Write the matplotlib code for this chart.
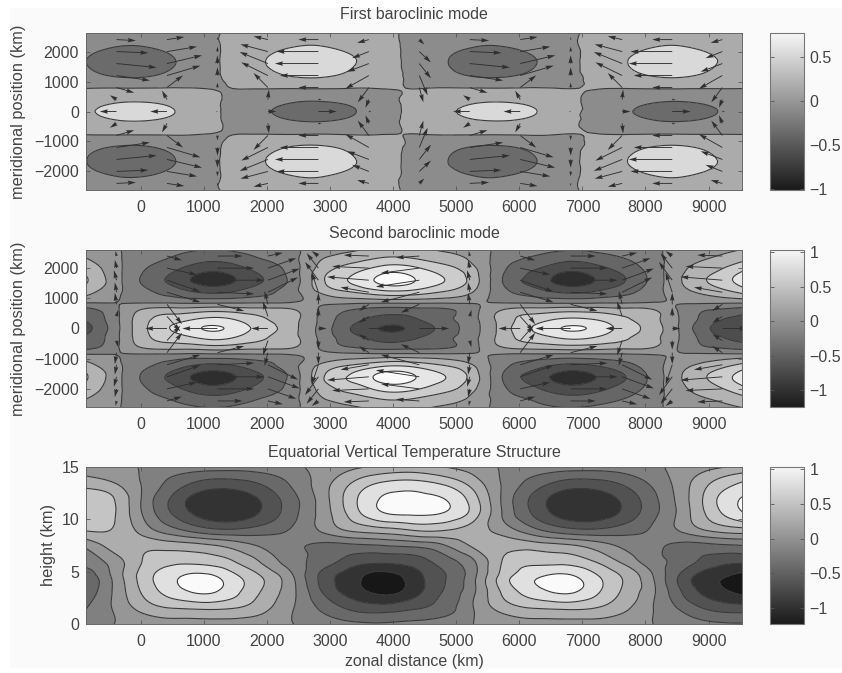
import numpy as np
import matplotlib
matplotlib.use("Agg")
import matplotlib.pyplot as plt
import matplotlib.tri as mtri
from matplotlib.cm import ScalarMappable
from matplotlib.colors import LinearSegmentedColormap, Normalize
from matplotlib.patches import Rectangle

plt.rcParams['font.family'] = ['Liberation Sans', 'DejaVu Sans']
plt.rcParams['axes.unicode_minus'] = True

TEXT = '#444444'
W, H = 842, 673

# columns the three fields were read at (km)
grid_x = [-900, -425, 50, 525, 1000, 1475, 1950, 2425, 2900, 3375, 3850, 4325,
          4800, 5275, 5750, 6225, 6700, 7175, 7650, 8125, 8600, 9075, 9550]
grid_y = [0, 300, 600, 900, 1200, 1500, 1800, 2100, 2400, 2700]
grid_z = [0, 1.5, 3, 4.5, 6, 7.5, 9, 10.5, 12, 13.5, 15]

# first mode, y >= 0 (picture is mirrored about the equator)
mode1 = [
    [.22, .43, .48, .31, .08, -.05, -.2, -.38, -.41, -.27, -.08, .04, .2, .42, .48, .33, .09, -.04, -.19, -.37, -.42, -.28, -.09],
    [.14, .28, .31, .2, .05, -.03, -.13, -.25, -.27, -.18, -.05, .03, .13, .27, .31, .21, .06, -.03, -.12, -.24, -.27, -.18, -.06],
    [.055, .11, .12, .08, .02, -.01, -.05, -.095, -.1, -.07, -.02, .01, .05, .105, .12, .08, .02, -.01, -.05, -.09, -.1, -.07, -.02],
    [-.05, -.08, -.09, -.05, -.02, .01, .06, .1, .11, .06, .02, -.01, -.04, -.08, -.09, -.05, -.02, .01, .05, .1, .11, .07, .02],
    [-.15, -.27, -.28, -.17, -.05, .04, .18, .33, .34, .21, .06, -.03, -.15, -.27, -.28, -.18, -.05, .03, .17, .32, .34, .21, .06],
    [-.22, -.4, -.41, -.25, -.08, .07, .27, .49, .5, .3, .1, -.06, -.21, -.4, -.41, -.26, -.08, .06, .25, .48, .51, .31, .1],
    [-.22, -.4, -.41, -.25, -.08, .07, .27, .5, .51, .31, .1, -.06, -.21, -.4, -.41, -.26, -.08, .06, .25, .48, .52, .32, .1],
    [-.15, -.27, -.28, -.17, -.05, .04, .18, .33, .34, .2, .06, -.04, -.15, -.27, -.28, -.17, -.05, .04, .17, .32, .34, .21, .06],
    [-.1, -.18, -.18, -.11, -.03, .03, .12, .22, .22, .13, .04, -.03, -.09, -.18, -.18, -.11, -.03, .03, .11, .21, .23, .14, .04],
    [-.07, -.13, -.14, -.08, -.03, .02, .09, .17, .17, .1, .03, -.02, -.07, -.13, -.14, -.09, -.03, .02, .08, .16, .17, .11, .03],
]

# second mode, y >= 0
mode2 = [
    [-.5, -.1, .36, .63, .81, .74, .5, .25, -.1, -.43, -.62, -.55, -.33, -.07, .3, .62, .81, .76, .52, .3, -.07, -.43, -.62],
    [-.39, -.08, .34, .51, .64, .6, .42, .25, -.08, -.34, -.48, -.43, -.26, -.05, .3, .5, .63, .6, .44, .26, -.05, -.34, -.48],
    [-.3, -.06, .24, .3, .34, .33, .28, .22, -.06, -.22, -.3, -.28, -.24, -.06, .22, .3, .34, .33, .28, .22, -.06, -.22, -.3],
    [.06, .01, -.05, -.07, -.09, -.08, -.06, -.02, .07, .09, .1, .1, .08, .04, -.04, -.07, -.09, -.08, -.06, -.02, .04, .07, .09],
    [.28, .06, -.15, -.29, -.42, -.38, -.25, -.06, .25, .4, .53, .51, .38, .19, -.14, -.3, -.42, -.38, -.26, -.08, .14, .28, .45],
    [.43, .1, -.23, -.45, -.65, -.59, -.38, -.1, .38, .62, .84, .79, .59, .29, -.21, -.46, -.65, -.59, -.4, -.12, .21, .43, .68],
    [.41, .09, -.22, -.43, -.63, -.57, -.37, -.09, .37, .6, .81, .76, .57, .28, -.2, -.44, -.63, -.57, -.39, -.12, .2, .41, .66],
    [.3, .07, -.16, -.31, -.46, -.42, -.27, -.07, .27, .44, .59, .56, .42, .2, -.15, -.32, -.46, -.42, -.28, -.09, .15, .3, .48],
    [.19, .04, -.1, -.2, -.29, -.26, -.17, -.04, .17, .27, .37, .35, .26, .13, -.09, -.2, -.29, -.26, -.18, -.05, .09, .19, .3],
    [.11, .02, -.06, -.11, -.16, -.15, -.1, -.02, .1, .16, .21, .2, .15, .07, -.05, -.12, -.16, -.15, -.1, -.03, .05, .11, .17],
]

# vertical structure, z rows from the ground up
vertical = [
    [-.1, 0, .08, .11, .13, .11, .07, 0, -.1, -.16, -.18, -.15, -.1, 0, .08, .11, .13, .11, .07, 0, -.1, -.16, -.18],
    [-.22, .02, .28, .4, .43, .4, .25, 0, -.25, -.45, -.5, -.42, -.3, 0, .28, .4, .43, .4, .25, 0, -.25, -.45, -.5],
    [-.35, .03, .44, .7, .82, .66, .36, .03, -.42, -.7, -.84, -.68, -.38, -.03, .44, .7, .82, .66, .36, .03, -.42, -.7, -.84],
    [-.37, .05, .5, .76, .86, .66, .38, 0, -.48, -.74, -.88, -.7, -.42, -.05, .5, .76, .86, .66, .38, 0, -.48, -.74, -.88],
    [-.12, .1, .42, .55, .53, .4, .15, -.12, -.3, -.5, -.55, -.5, -.3, -.02, .42, .55, .53, .4, .15, -.12, -.3, -.5, -.55],
    [.03, .28, .34, .3, .24, .12, -.04, -.15, -.25, -.24, -.2, -.15, -.02, .24, .34, .3, .24, .12, -.04, -.15, -.25, -.24, -.2],
    [.42, .38, .1, -.15, -.33, -.38, -.3, -.17, .05, .25, .33, .42, .42, .3, .1, -.15, -.33, -.38, -.3, -.17, .05, .25, .33],
    [.55, .42, -.03, -.42, -.68, -.72, -.55, -.25, .1, .5, .78, .82, .78, .5, -.03, -.42, -.68, -.72, -.55, -.25, .1, .5, .78],
    [.55, .4, -.05, -.45, -.72, -.73, -.55, -.25, .12, .55, .82, .85, .8, .48, -.05, -.45, -.72, -.73, -.55, -.25, .12, .55, .82],
    [.3, .2, -.03, -.28, -.45, -.47, -.36, -.15, .12, .42, .62, .66, .55, .3, -.03, -.28, -.45, -.47, -.36, -.15, .12, .42, .62],
    [.12, .08, -.02, -.08, -.1, -.12, -.09, -.03, .06, .16, .24, .26, .2, .1, -.02, -.08, -.1, -.12, -.09, -.03, .06, .16, .24],
]

# arrow origins and extents (km), y >= 0, top row first
arrow_x = [-386, 414, 1214, 2014, 2814, 3614, 4414, 5214, 6014, 6814, 7630, 8424, 9218]
arrow_y = [2400, 2000, 1600, 1200, 800, 400, 0]

mode1_u = [
    [307, 275, 0, -228, -318, -186, 80, 307, 275, 0, -228, -318, -186],
    [503, 477, 0, -435, -662, -265, 185, 503, 477, 0, -435, -662, -265],
    [636, 556, 0, -450, -689, -344, 185, 636, 556, 0, -450, -689, -344],
    [530, 530, 0, -424, -610, -371, 132, 530, 530, 0, -424, -610, -371],
    [281, 254, 0, -228, -318, -175, 64, 281, 254, 0, -228, -318, -175],
    [-106, -80, 0, 16, 53, -53, 0, -106, -80, 0, 16, 53, -53],
    [-265, -265, -26, 132, 292, 42, 0, -265, -265, -26, 132, 292, 42],
]
mode1_v = [
    [-33, 88, 88, 110, 0, -110, -165, -33, 88, 88, 110, 0, -110],
    [-44, 165, 165, 242, 0, -220, -363, -44, 165, 165, 242, 0, -220],
    [-132, 275, 275, 385, 0, -275, -495, -132, 275, 275, 385, 0, -275],
    [-165, 330, 275, 440, 0, -440, -660, -165, 330, 275, 440, 0, -440],
    [-176, 407, 165, 484, 0, -495, -495, -176, 407, 165, 484, 0, -495],
    [143, 297, 0, 330, 0, -275, 0, 143, 297, 0, 330, 0, -275],
    [0, 0, 0, 0, 0, 0, 0, 0, 0, 0, 0, 0, 0],
]
mode2_u = [
    [-16, 238, 398, 238, -106, -398, -371, -16, 238, 398, 238, -106, -398],
    [-27, 477, 583, 450, -186, -583, -610, -27, 477, 583, 450, -186, -583],
    [-42, 530, 742, 504, -212, -663, -689, -42, 530, 742, 504, -212, -663],
    [-27, 530, 583, 477, -106, -450, -610, -27, 530, 583, 477, -106, -450],
    [-27, 238, 424, -53, 0, -159, -292, -27, 238, 424, -53, 0, -159],
    [27, 212, 0, -80, 0, -159, 0, 27, 212, 0, -80, 0, -159],
    [0, -345, -557, -265, 132, 398, 477, 0, -345, -557, -265, 132, 398],
]
mode2_v = [
    [165, -143, 0, 110, 165, 33, -55, 165, -143, 0, 110, 165, 33],
    [275, -220, 0, 330, 495, 55, -165, 275, -220, 0, 330, 495, 55],
    [330, -385, 0, 385, 605, 110, -220, 330, -385, 0, 385, 605, 110],
    [330, -330, -55, 495, 660, 165, -330, 330, -330, -55, 495, 660, 165],
    [385, -660, -220, 440, 385, -220, -275, 385, -660, -220, 440, 385, -220],
    [220, -495, 0, 495, 300, -220, 0, 220, -495, 0, 495, 300, -220],
    [0, 0, 0, 0, 0, 0, 0, 0, 0, 0, 0, 0, 0],
]

x_ticks = [0, 1000, 2000, 3000, 4000, 5000, 6000, 7000, 8000, 9000]
y_ticks = [-2000, -1000, 0, 1000, 2000]
z_ticks = [0, 5, 10, 15]

levels1 = [-2, -.25, 0, .3, 2]
shades1 = ['0.42', '0.55', '0.67', '0.85']
levels2 = [-2, -.6, -.4, -.2, 0, .2, .4, .6, .8, 2]
shades2 = ['0.18', '0.3', '0.4', '0.5', '0.59', '0.7', '0.8', '0.9', '0.98']
levels3 = [-2, -.8, -.6, -.4, -.2, 0, .2, .4, .6, .8, 2]
shades3 = ['0.09', '0.2', '0.32', '0.41', '0.5', '0.59', '0.68', '0.77', '0.88', '0.98']

bar_cmap = LinearSegmentedColormap.from_list('bar_gray', ['#1a1a1a', '#f6f6f6'])


def mirror_field(rows):
    rows = np.array(rows)
    return np.vstack([rows[:0:-1], rows])


def draw_field(ax, xs, ys, field, levels, shades):
    xx, yy = np.meshgrid(xs, ys)
    triang = mtri.Triangulation(xx.ravel(), yy.ravel())
    refiner = mtri.UniformTriRefiner(triang)
    fine, fine_field = refiner.refine_field(np.asarray(field).ravel(), subdiv=3)
    ax.tricontourf(fine, fine_field, levels=levels, colors=shades)
    ax.tricontour(fine, fine_field, levels=levels[1:-1], colors='#3a3a3a',
                  linewidths=0.8, linestyles='solid')


def draw_arrows(ax, us, vs):
    ys = list(arrow_y) + [-y for y in arrow_y[-2::-1]]
    us = np.array(us, dtype=float)
    vs = np.array(vs, dtype=float)
    u_all = np.vstack([us, us[-2::-1]])
    v_all = np.vstack([vs, -vs[-2::-1]])
    xx, yy = np.meshgrid(arrow_x, ys)
    keep = (u_all != 0) | (v_all != 0)
    ax.quiver(xx[keep], yy[keep], u_all[keep], v_all[keep], angles='xy', scale_units='xy', scale=1,
              units='dots', width=0.9, headwidth=5, headlength=9, headaxislength=8, color='#2f2f2f', zorder=3)


def px_axes(fig, left, top, right, bottom):
    return fig.add_axes([left / W, 1 - bottom / H, (right - left) / W, (bottom - top) / H])


def style_axes(ax, title, ylabel, yticks, label_x, title_pad):
    ax.set_xlim(-870, 9530)
    ax.set_xticks(x_ticks)
    ax.set_yticks(yticks)
    ax.tick_params(direction='in', top=True, right=True, length=3, width=0.6, color='#555555',
                   labelsize=11.5, labelcolor=TEXT, pad=7)
    ax.tick_params(axis='y', pad=5)
    for spine in ax.spines.values():
        spine.set_color('#666666')
        spine.set_linewidth(0.7)
    ax.set_title(title, fontsize=11.5, color=TEXT, pad=title_pad)
    ax.set_ylabel(ylabel, fontsize=11.8, color=TEXT)
    ax.yaxis.set_label_coords(label_x, 0.5)


def add_bar(fig, top, bottom, vmin, vmax, ticks):
    cax = px_axes(fig, 770, top, 804, bottom)
    sm = ScalarMappable(norm=Normalize(vmin, vmax), cmap=bar_cmap)
    cb = fig.colorbar(sm, cax=cax)
    cb.set_ticks(ticks)
    cb.set_ticklabels([str(t).replace('-', '\u2212') for t in ticks])
    cax.tick_params(direction='in', left=True, right=True, length=3, width=0.6, color='#555555',
                    labelsize=11.5, labelcolor=TEXT, pad=4)
    cb.outline.set_edgecolor('#777777')
    cb.outline.set_linewidth(0.8)


fig = plt.figure(figsize=(W / 100, H / 100), dpi=100, facecolor='white')
fig.patches.append(Rectangle((10 / W, 5 / H), 832 / W, 660 / H, transform=fig.transFigure,
                             facecolor='#fafafa', edgecolor='none', zorder=-5))

ys_full = [-y for y in grid_y[:0:-1]] + list(grid_y)

ax1 = px_axes(fig, 86, 33, 742, 190)
draw_field(ax1, grid_x, ys_full, mirror_field(mode1), levels1, shades1)
draw_arrows(ax1, mode1_u, mode1_v)
ax1.set_ylim(-2620, 2620)
style_axes(ax1, 'First baroclinic mode', 'meridional position (km)', y_ticks, -60 / 656, 10)
add_bar(fig, 33, 190, -1.01, 0.77, [-1, -0.5, 0, 0.5])

ax2 = px_axes(fig, 86, 250, 742, 407)
draw_field(ax2, grid_x, ys_full, mirror_field(mode2), levels2, shades2)
draw_arrows(ax2, mode2_u, mode2_v)
ax2.set_ylim(-2600, 2600)
style_axes(ax2, 'Second baroclinic mode', 'meridional position (km)', y_ticks, -60 / 656, 8.5)
add_bar(fig, 250, 407, -1.24, 1.03, [-1, -0.5, 0, 0.5, 1])

ax3 = px_axes(fig, 86, 467, 742, 624)
draw_field(ax3, grid_x, grid_z, vertical, levels3, shades3)
ax3.set_ylim(0, 15)
style_axes(ax3, 'Equatorial Vertical Temperature Structure', 'height (km)', z_ticks, -30 / 656, 7)
ax3.set_xlabel('zonal distance (km)', fontsize=11.5, color=TEXT, labelpad=4)
add_bar(fig, 467, 624, -1.23, 1.03, [-1, -0.5, 0, 0.5, 1])

fig.savefig('out.png', dpi=100, facecolor=fig.get_facecolor())
